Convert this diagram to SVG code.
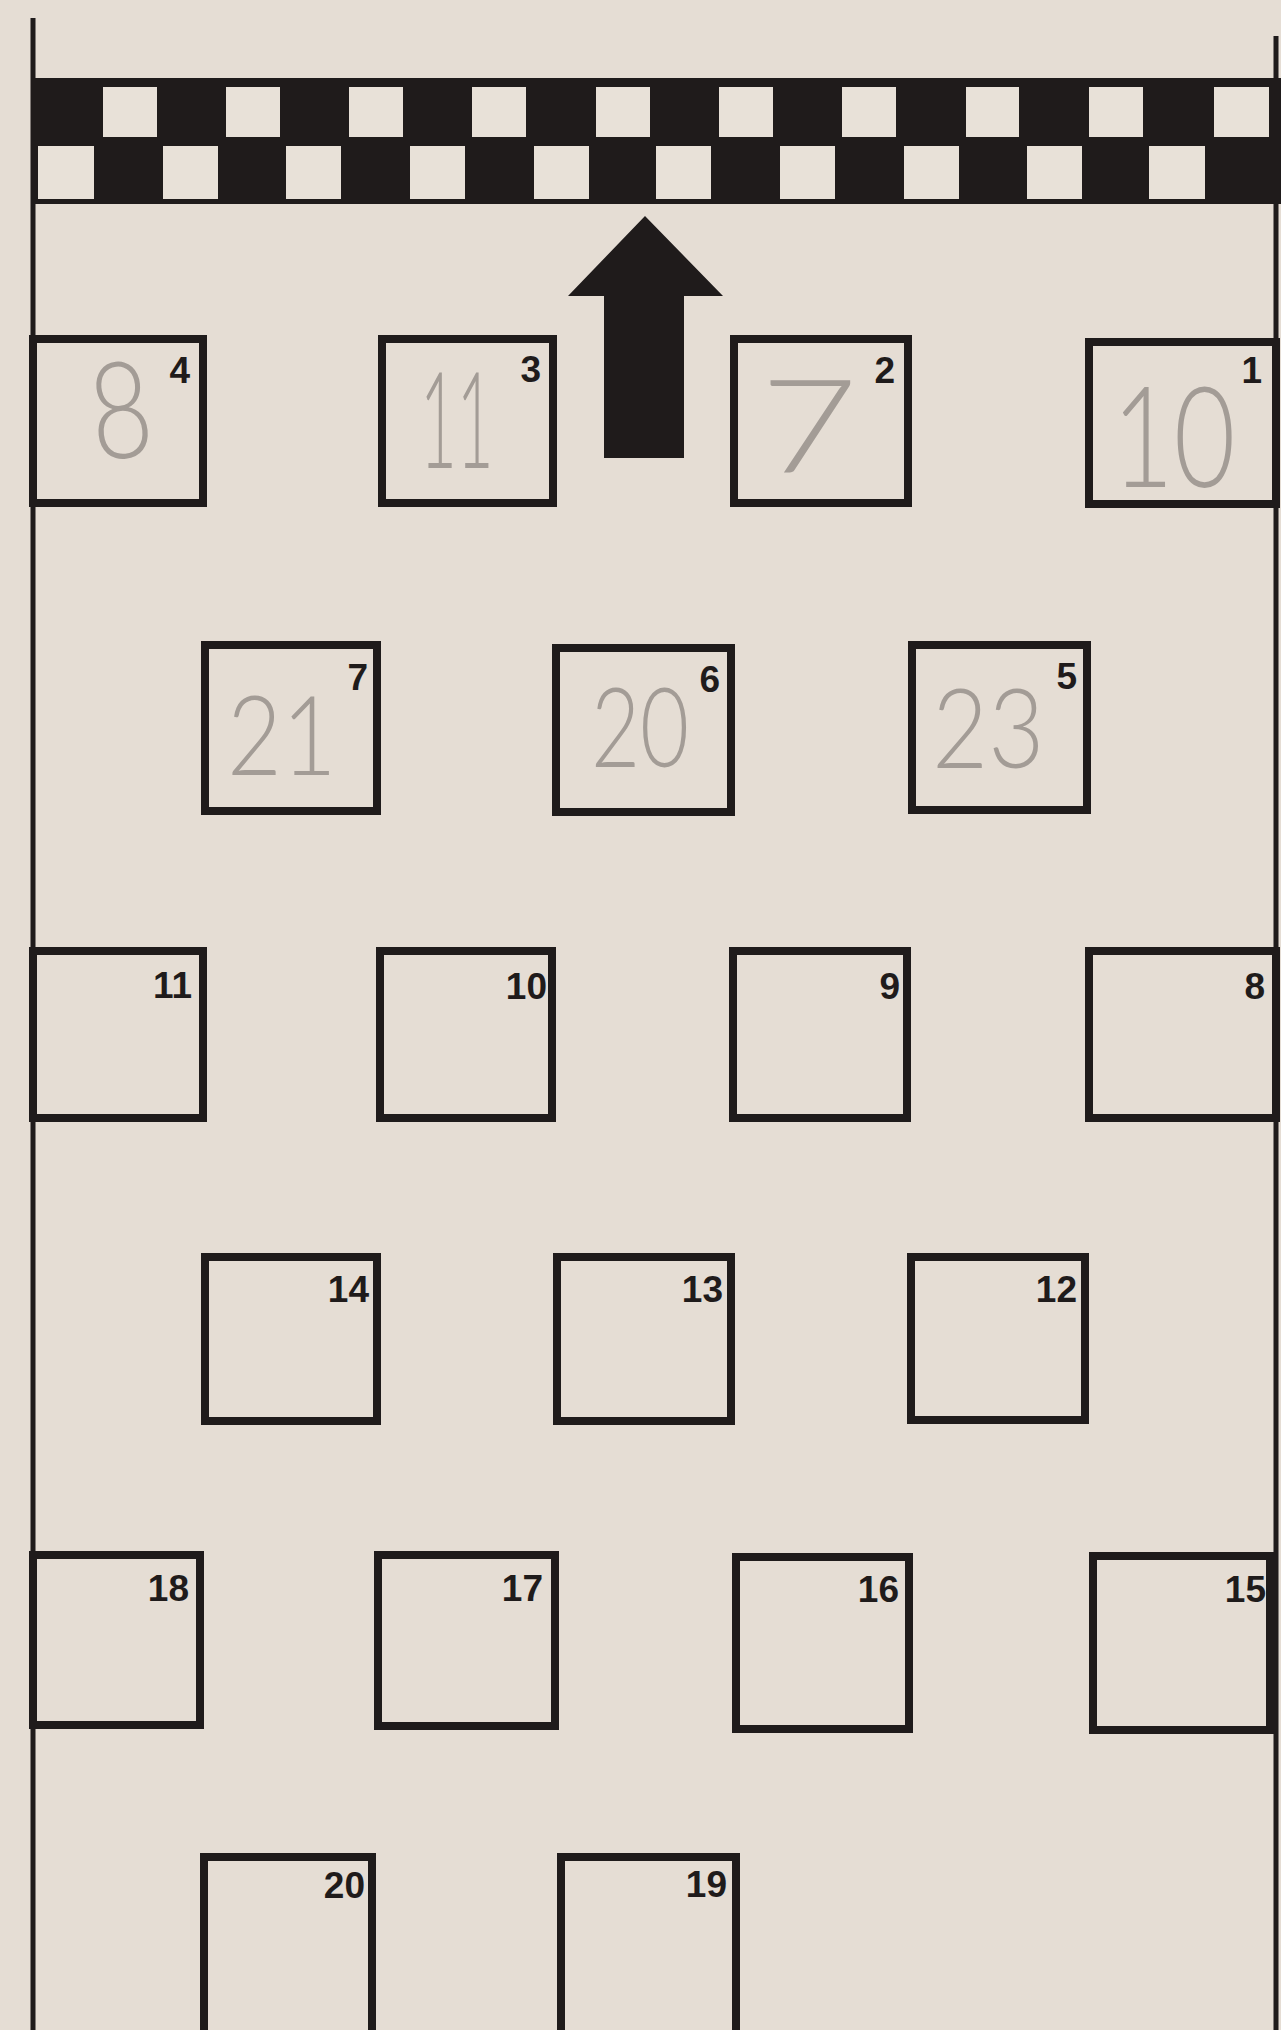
<svg xmlns="http://www.w3.org/2000/svg" width="1281" height="2030" viewBox="0 0 1281 2030">
<style>
.bg{fill:#e5ddd4}
.ink{fill:#1f1b1b}
.line{stroke:#1f1b1b;stroke-width:5;fill:none}
.box{fill:none;stroke:#1f1b1b;stroke-width:8}
.wht{fill:#e8e1d8}
.lbl{font-family:"Liberation Sans",Arial,sans-serif;font-weight:bold;font-size:37px;fill:#1f1b1b;text-anchor:end}
.pen{font-family:Lato,Inter,"Open Sans","Liberation Sans",sans-serif;font-weight:300;fill:#a39c96;text-anchor:start}
</style>
<rect class="bg" x="0" y="0" width="1281" height="2030"/>

<g id="track-edges">
<line class="line" x1="33" y1="18" x2="33" y2="2030"/>
<line class="line" x1="1276" y1="36" x2="1276" y2="2030"/>
</g>

<g id="start-finish-line">
<rect class="ink" x="33" y="78" width="1248" height="126"/>
<rect class="wht" x="103" y="87" width="54" height="50"/>
<rect class="wht" x="226" y="87" width="54" height="50"/>
<rect class="wht" x="349" y="87" width="54" height="50"/>
<rect class="wht" x="472" y="87" width="54" height="50"/>
<rect class="wht" x="596" y="87" width="54" height="50"/>
<rect class="wht" x="719" y="87" width="54" height="50"/>
<rect class="wht" x="842" y="87" width="54" height="50"/>
<rect class="wht" x="966" y="87" width="53" height="50"/>
<rect class="wht" x="1089" y="87" width="54" height="50"/>
<rect class="wht" x="1214" y="87" width="55" height="50"/>
<rect class="wht" x="38" y="146" width="56" height="53"/>
<rect class="wht" x="163" y="146" width="55" height="53"/>
<rect class="wht" x="286" y="146" width="55" height="53"/>
<rect class="wht" x="410" y="146" width="55" height="53"/>
<rect class="wht" x="534" y="146" width="55" height="53"/>
<rect class="wht" x="656" y="146" width="55" height="53"/>
<rect class="wht" x="780" y="146" width="55" height="53"/>
<rect class="wht" x="904" y="146" width="55" height="53"/>
<rect class="wht" x="1027" y="146" width="55" height="53"/>
<rect class="wht" x="1149" y="146" width="56" height="53"/>
</g>

<g id="connectors">
<polygon class="ink" points="645,216 723,296 684,296 684,458 604,458 604,296 568,296"/>
</g>

<g id="grid-4"><rect class="box" x="33" y="339" width="170" height="164"/><text class="lbl" x="190" y="383">4</text><text class="pen" font-size="135" transform="translate(95 461) rotate(-6) scale(0.79 1)">8</text></g>
<g id="grid-3"><rect class="box" x="382" y="339" width="171" height="164"/><text class="lbl" x="541" y="382">3</text><text class="pen" font-size="135" transform="translate(420 468) scale(0.47 1)">11</text></g>
<g id="grid-2"><rect class="box" x="734" y="339" width="174" height="164"/><text class="lbl" x="895" y="383">2</text><text class="pen" font-size="130" transform="translate(760 473) scale(1.3 1)">7</text></g>
<g id="grid-1"><rect class="box" x="1089" y="342" width="187" height="162"/><text class="lbl" x="1262" y="383">1</text><text class="pen" font-size="140" transform="translate(1112 487) scale(0.76 1)">10</text></g>

<g id="grid-7"><rect class="box" x="205" y="645" width="172" height="166"/><text class="lbl" x="368" y="690">7</text><text class="pen" font-size="110" transform="translate(227 775) scale(0.86 1)">21</text></g>
<g id="grid-6"><rect class="box" x="556" y="648" width="175" height="164"/><text class="lbl" x="720" y="692">6</text><text class="pen" font-size="110" transform="translate(591 767) scale(0.77 1)">20</text></g>
<g id="grid-5"><rect class="box" x="912" y="645" width="175" height="165"/><text class="lbl" x="1077" y="689">5</text><text class="pen" font-size="110" transform="translate(932 768) scale(0.88 1)">23</text></g>

<g id="grid-11"><rect class="box" x="33" y="951" width="170" height="167"/><text class="lbl" x="192" y="998">11</text></g>
<g id="grid-10"><rect class="box" x="380" y="951" width="172" height="167"/><text class="lbl" x="547" y="999">10</text></g>
<g id="grid-9"><rect class="box" x="733" y="951" width="174" height="167"/><text class="lbl" x="900" y="999">9</text></g>
<g id="grid-8"><rect class="box" x="1089" y="951" width="187" height="167"/><text class="lbl" x="1265" y="999">8</text></g>

<g id="grid-14"><rect class="box" x="205" y="1257" width="172" height="164"/><text class="lbl" x="369" y="1302">14</text></g>
<g id="grid-13"><rect class="box" x="557" y="1257" width="174" height="164"/><text class="lbl" x="723" y="1302">13</text></g>
<g id="grid-12"><rect class="box" x="911" y="1257" width="174" height="163"/><text class="lbl" x="1077" y="1302">12</text></g>

<g id="grid-18"><rect class="box" x="33" y="1555" width="167" height="170"/><text class="lbl" x="189" y="1601">18</text></g>
<g id="grid-17"><rect class="box" x="378" y="1555" width="177" height="171"/><text class="lbl" x="543" y="1601">17</text></g>
<g id="grid-16"><rect class="box" x="736" y="1557" width="173" height="172"/><text class="lbl" x="899" y="1602">16</text></g>
<g id="grid-15"><rect class="box" x="1093" y="1556" width="177" height="174"/><text class="lbl" x="1266" y="1602">15</text></g>

<g id="grid-20"><rect class="box" x="204" y="1857" width="168" height="190"/><text class="lbl" x="365" y="1898">20</text></g>
<g id="grid-19"><rect class="box" x="561" y="1857" width="175" height="190"/><text class="lbl" x="727" y="1897">19</text></g>
</svg>
